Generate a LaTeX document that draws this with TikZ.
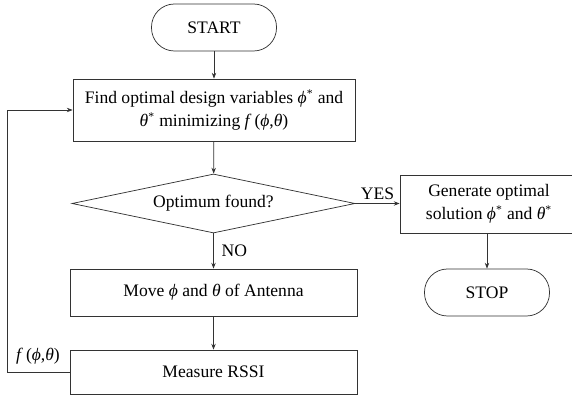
\documentclass[tikz,border=0pt]{standalone}
\usepackage{fontspec}
\setmainfont{Liberation Serif}
\usetikzlibrary{shapes.geometric,arrows.meta}
\newcommand{\phiv}{\textit{ϕ}}
\newcommand{\thetav}{\textit{θ}}
\begin{document}
\begin{tikzpicture}[
                box/.style={draw=black!80, rectangle, align=center, inner sep=0pt},
                term/.style={draw=black!80, rectangle, rounded corners=0.55cm, inner sep=0pt,
                    minimum width=3cm, minimum height=1.128cm},
                decision/.style={draw=black!80, diamond, aspect=4.8, inner sep=0pt,
                    minimum width=6.792cm, minimum height=1.416cm},
                flow/.style={draw=black!80, -{Stealth[length=4pt,width=3pt]}},
                font=\fontsize{12}{15.5}\selectfont,
                line width=0.5pt
            ]

                \useasboundingbox (0,0) rectangle (13.728,-9.528);

                % Main column
                \node[term] (start) at (5.136,-0.66) {START};
                \node[box, minimum width=6.768cm, minimum height=1.488cm] (find) at (5.136,-2.64)
                    {Find optimal design variables \phiv\textsuperscript{*} and\\
                     \thetav\textsuperscript{*} minimizing \textit{f}\,(\phiv,\thetav)};
                \node[decision] (check) at (5.124,-4.884) {Optimum found?};
                \node[box, minimum width=6.888cm, minimum height=1.128cm] (move) at (5.124,-7.02)
                    {Move \phiv\ and \thetav\ of Antenna};
                \node[box, minimum width=6.888cm, minimum height=1.056cm] (measure) at (5.124,-8.928)
                    {Measure RSSI};

                % Right column
                \node[box, minimum width=4.272cm, minimum height=1.392cm] (gen) at (11.736,-4.896)
                    {Generate optimal\\ solution \phiv\textsuperscript{*} and \thetav\textsuperscript{*}};
                \node[term] (stop) at (11.688,-7.02) {STOP};

                % Arrows
                \draw[flow] (start) -- (find);
                \draw[flow] (find) -- (check);
                \draw[flow] (check) -- node[right, xshift=2pt] {NO} (move);
                \draw[flow] (move) -- (measure);
                \draw[flow] (check.east) -- node[above, yshift=-1pt] {YES} (check.east -| gen.west);
                \draw[flow] (gen.south -| stop) -- (stop);

                % Feedback loop
                \coordinate (back) at (0.168,-8.928);
                \draw[flow] (measure.west) -- (back) |- (find.west);
                \node at (0.912,-8.544) {\textit{f}\,(\phiv,\thetav)};

            \end{tikzpicture}
\end{document}
